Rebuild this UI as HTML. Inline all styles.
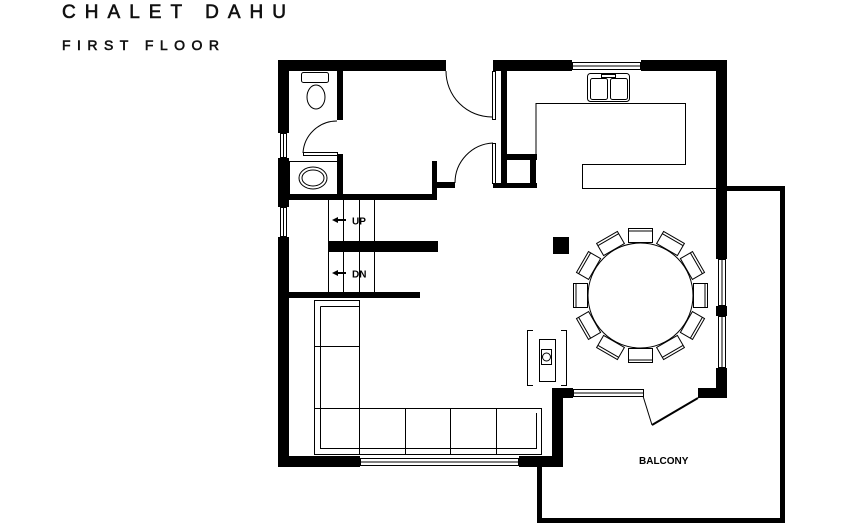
<!DOCTYPE html>
<html><head><style>
html,body{margin:0;padding:0;background:#fff;}
svg{display:block;}
</style></head><body>
<svg width="847" height="525" viewBox="0 0 847 525" xmlns="http://www.w3.org/2000/svg" font-family="Liberation Sans, sans-serif">
<rect width="847" height="525" fill="#fff"/>
<text x="62" y="18" font-size="19" textLength="224" lengthAdjust="spacing" fill="#111" stroke="#111" stroke-width="0.6">CHALET DAHU</text>
<text x="62" y="50" font-size="14" textLength="157" lengthAdjust="spacing" fill="#111" stroke="#111" stroke-width="0.6">FIRST FLOOR</text>

<g fill="#000">
<rect x="278" y="60" width="168" height="11"/>
<rect x="493" y="60" width="79" height="11"/>
<rect x="641" y="60" width="86" height="11"/>
<rect x="716" y="60" width="11" height="199"/>
<rect x="716" y="306" width="11" height="10"/>
<rect x="716" y="368" width="11" height="30"/>
<rect x="698" y="388" width="29" height="10"/>
<rect x="278" y="60" width="11" height="73"/>
<rect x="278" y="158" width="11" height="49"/>
<rect x="278" y="237" width="11" height="230"/>
<rect x="278" y="456" width="82" height="11"/>
<rect x="519" y="456" width="44" height="11"/>
<rect x="552" y="388" width="11" height="79"/>
<rect x="552" y="388" width="21" height="10"/>
<rect x="716" y="186" width="69" height="5"/>
<rect x="780" y="186" width="5" height="337"/>
<rect x="537" y="518" width="248" height="5"/>
<rect x="537" y="462" width="5" height="61"/>
<rect x="337" y="71" width="6" height="49"/>
<rect x="337" y="154" width="6" height="42"/>
<rect x="289" y="194" width="148" height="6"/>
<rect x="432" y="161" width="5" height="39"/>
<rect x="432" y="182" width="23" height="6"/>
<rect x="501" y="71" width="6" height="117"/>
<rect x="493" y="183" width="44" height="5"/>
<rect x="501" y="154" width="36" height="6"/>
<rect x="530" y="154" width="6" height="34"/>
<rect x="328" y="241" width="110" height="11"/>
<rect x="289" y="292" width="131" height="6"/>
<rect x="553" y="237" width="16" height="17"/>
</g>

<g fill="none" stroke="#000" stroke-width="1">
<rect x="280.5" y="133.5" width="6" height="24"/><line x1="283.5" y1="133" x2="283.5" y2="158"/>
<rect x="280.5" y="207.5" width="6" height="29"/><line x1="283.5" y1="207" x2="283.5" y2="237"/>
<rect x="572.5" y="62.5" width="68" height="7"/><line x1="572" y1="66" x2="641" y2="66"/>
<rect x="718.5" y="259.5" width="7" height="46"/><line x1="722" y1="259" x2="722" y2="306"/>
<rect x="718.5" y="316.5" width="7" height="51"/><line x1="722" y1="316" x2="722" y2="368"/>
<rect x="360.5" y="458.5" width="158" height="7"/><line x1="360" y1="462" x2="519" y2="462"/>
<rect x="573.5" y="389.5" width="70" height="7"/><line x1="573" y1="393" x2="644" y2="393"/>
<rect x="492.5" y="71.5" width="3" height="48"/>
<rect x="492.5" y="143.5" width="3" height="40"/>
<path d="M446 71 A46 46 0 0 0 492 117"/>
<path d="M455 183 A40 40 0 0 1 493 143"/>
<path d="M337 121 A34 34 0 0 0 303 153"/>
<path d="M643 396 Q648 412 652 425"/>
<line x1="652" y1="425" x2="698" y2="398" stroke-width="2"/>
<rect x="303.5" y="152.5" width="34" height="3"/>
<rect x="301.5" y="72.5" width="27" height="10" rx="2"/>
<ellipse cx="316" cy="97" rx="9" ry="12"/>
<rect x="289.5" y="161.5" width="48" height="33"/>
<ellipse cx="313" cy="178" rx="14" ry="11"/>
<ellipse cx="313" cy="178" rx="11" ry="8"/>
<path d="M536 154 V103.5 H685.5 V164.5 H582.5 V188.5 H716"/>
<rect x="587.5" y="73.5" width="42" height="28" rx="3"/>
<rect x="590.5" y="78.5" width="17" height="21" rx="2"/>
<rect x="610.5" y="78.5" width="17" height="21" rx="2"/>
<rect x="601.5" y="74.5" width="14" height="3"/>
<line x1="328.5" y1="200" x2="328.5" y2="292"/>
<line x1="343.5" y1="200" x2="343.5" y2="292"/>
<line x1="359.5" y1="200" x2="359.5" y2="292"/>
<line x1="374.5" y1="200" x2="374.5" y2="292"/>
<path d="M314.5 300.5 H359.5 V408.5 H541.5 V454.5 H314.5 Z"/>
<path d="M320.5 306.5 H359.5 M320.5 306.5 V448.5 H536.5 V413 M359.5 408 V454 M405.5 408 V454 M450.5 408 V454 M496.5 408 V454 M314.5 346.5 H359.5 M314.5 408.5 H359.5"/>
<path d="M533 330.5 H527.5 V385.5 H533 M561 330.5 H566.5 V385.5 H561"/>
<rect x="539.5" y="339.5" width="16" height="42"/>
<rect x="541.5" y="349.5" width="10" height="15"/>
<circle cx="546.5" cy="357" r="4"/>
</g>
<g fill="#fff" stroke="#000" stroke-width="1">
<g transform="translate(640.5 295.5)">
<g transform="rotate(0)"><rect x="-12" y="-67" width="24" height="14"/><line x1="-12" y1="-64.5" x2="12" y2="-64.5"/></g>
<g transform="rotate(30)"><rect x="-12" y="-67" width="24" height="14"/><line x1="-12" y1="-64.5" x2="12" y2="-64.5"/></g>
<g transform="rotate(60)"><rect x="-12" y="-67" width="24" height="14"/><line x1="-12" y1="-64.5" x2="12" y2="-64.5"/></g>
<g transform="rotate(90)"><rect x="-12" y="-67" width="24" height="14"/><line x1="-12" y1="-64.5" x2="12" y2="-64.5"/></g>
<g transform="rotate(120)"><rect x="-12" y="-67" width="24" height="14"/><line x1="-12" y1="-64.5" x2="12" y2="-64.5"/></g>
<g transform="rotate(150)"><rect x="-12" y="-67" width="24" height="14"/><line x1="-12" y1="-64.5" x2="12" y2="-64.5"/></g>
<g transform="rotate(180)"><rect x="-12" y="-67" width="24" height="14"/><line x1="-12" y1="-64.5" x2="12" y2="-64.5"/></g>
<g transform="rotate(210)"><rect x="-12" y="-67" width="24" height="14"/><line x1="-12" y1="-64.5" x2="12" y2="-64.5"/></g>
<g transform="rotate(240)"><rect x="-12" y="-67" width="24" height="14"/><line x1="-12" y1="-64.5" x2="12" y2="-64.5"/></g>
<g transform="rotate(270)"><rect x="-12" y="-67" width="24" height="14"/><line x1="-12" y1="-64.5" x2="12" y2="-64.5"/></g>
<g transform="rotate(300)"><rect x="-12" y="-67" width="24" height="14"/><line x1="-12" y1="-64.5" x2="12" y2="-64.5"/></g>
<g transform="rotate(330)"><rect x="-12" y="-67" width="24" height="14"/><line x1="-12" y1="-64.5" x2="12" y2="-64.5"/></g>
</g>
</g>
<circle cx="640.5" cy="295.5" r="52.5" fill="#fff" stroke="#000"/>

<g fill="#000">
<rect x="337" y="219" width="9" height="2"/><polygon points="332,220 338,217 338,223"/>
<rect x="337" y="272" width="9" height="2"/><polygon points="332,273 338,270 338,276"/>
</g>
<text x="352" y="224.5" font-size="10" font-weight="bold">UP</text>
<text x="352" y="277.5" font-size="10" font-weight="bold">DN</text>
<text x="639" y="464" font-size="10" font-weight="bold">BALCONY</text>
</svg>
</body></html>
